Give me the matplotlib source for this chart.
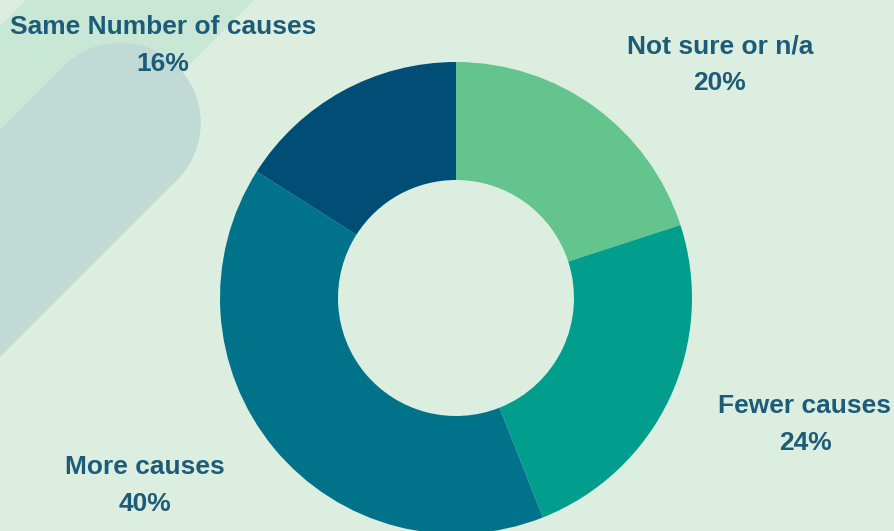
import matplotlib.pyplot as plt
from matplotlib.patches import Circle, Polygon

labels = ["Not sure or n/a", "Fewer causes", "More causes", "Same Number of causes"]
shares = [20, 24, 40, 16]
colors = ["#64c48e", "#019d8d", "#00738b", "#004d75"]

BG = "#dbeee0"
TEXT = "#1d5c78"

fig = plt.figure(figsize=(8.94, 5.31), dpi=100)
fig.patch.set_facecolor(BG)

# backdrop layer in pixel units
bg = fig.add_axes([0, 0, 1, 1])
bg.set_xlim(0, 894)
bg.set_ylim(531, 0)
bg.set_aspect("equal")
bg.axis("off")
bg.add_patch(Polygon([(26, 0), (254, 0), (0, 254), (0, 26)], closed=True,
                     facecolor="#c9e7d5", edgecolor="none"))
# rounded diagonal pill
cx, cy, r = 120.5, 123, 80.3
d = r / 2 ** 0.5
far = 500
bg.add_patch(Polygon([(cx + d, cy + d), (cx - d, cy - d),
                      (cx - d - far, cy - d + far), (cx + d - far, cy + d + far)],
                     closed=True, facecolor="#c0dbd5", edgecolor="none"))
bg.add_patch(Circle((cx, cy), r, facecolor="#c0dbd5", edgecolor="none"))

# donut
ax = fig.add_axes([(456 - 236) / 894, (531 - 298 - 236) / 531, 472 / 894, 472 / 531])
ax.pie(shares, colors=colors, startangle=90, counterclock=False, radius=1,
       wedgeprops=dict(width=0.5, edgecolor="none"))
ax.set_xlim(-1, 1)
ax.set_ylim(-1, 1)
ax.axis("off")

# label name and share, placed in pixel units
label_pos = [(720, 46), (805, 406), (145, 467), (163, 27)]
for name, val, (x, y) in zip(labels, shares, label_pos):
    bg.text(x, y, name, ha="center", va="center", fontsize=19,
            fontweight="bold", family="Liberation Sans", color=TEXT)
    bg.text(x, y + 37, f"{val}%", ha="center", va="center", fontsize=19,
            fontweight="bold", family="Liberation Sans", color=TEXT)

fig.savefig("out.png", dpi=100, facecolor=BG)
